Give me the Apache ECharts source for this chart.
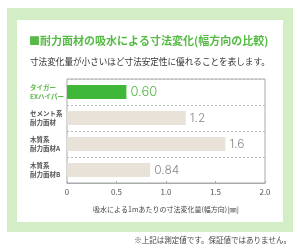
<!DOCTYPE html>
<html><head><meta charset="utf-8">
<script src="https://cdn.jsdelivr.net/npm/echarts@6/dist/echarts.min.js"></script>
<style>html,body{margin:0;padding:0;background:#fff}#c{width:300px;height:247px}</style>
</head><body><div id="c"></div>
<script>
const categories = ['タイガー\nEXハイパー', 'セメント系\n耐力面材', '木質系\n耐力面材A', '木質系\n耐力面材B'];
const values = [0.6, 1.2, 1.6, 0.84];
const valueLabels = ['0.60', '1.2', '1.6', '0.84'];
const xTicks = ['0', '0.5', '1.0', '1.5', '2.0'];

const GREEN = '#3fb83a';
const BEIGE = '#e9e2d9';
const chart = echarts.init(document.getElementById('c'), null, {renderer: 'canvas'});
const font = '"Noto Sans CJK JP", sans-serif';
chart.setOption({
  animation: false,
  textStyle: {fontFamily: font},
  graphic: [
    {type: 'rect', shape: {x: 7, y: 8, width: 286, height: 224}, style: {fill: '#d3edc6'}, z: -10},
    {type: 'rect', shape: {x: 17, y: 20, width: 266, height: 202}, style: {fill: '#fff'}, z: -9},
    {type: 'text', left: 29, top: 35, style: {text: '■耐力面材の吸水による寸法変化(幅方向の比較)', fill: '#55bb45', font: 'bold 11px ' + font}},
    {type: 'text', left: 30, top: 57, style: {text: '寸法変化量が小さいほど寸法安定性に優れることを表します。', fill: '#333', font: '8.6px ' + font}},
    {type: 'text', right: 9, top: 236, style: {text: '※上記は測定値です。保証値ではありません。', fill: '#444', font: '7.5px ' + font}}
  ],
  grid: {left: 67, top: 79, width: 198, height: 104, show: true, borderColor: '#aaa', borderWidth: 1, containLabel: false},
  xAxis: {
    type: 'value', min: 0, max: 2, interval: 0.5,
    axisLine: {show: true, lineStyle: {color: '#aaa'}},
    axisTick: {show: true, inside: true, length: 2, lineStyle: {color: '#aaa'}},
    splitLine: {show: false},
    axisLabel: {fontSize: 8, color: '#555', margin: 5, formatter: (v) => xTicks[Math.round(v / 0.5)]},
    name: '吸水による1mあたりの寸法変化量(幅方向)[㎜]',
    nameLocation: 'middle', nameGap: 23,
    nameTextStyle: {fontSize: 7, color: '#444'}
  },
  yAxis: {
    type: 'category', data: categories, inverse: true,
    axisLine: {show: false}, axisTick: {show: false},
    splitLine: {show: true, lineStyle: {type: [2, 2], color: '#bbb', width: 1}},
    axisLabel: {
      align: 'left', margin: 37, fontSize: 6.5, lineHeight: 9, fontWeight: 'bold',
      color: (v, i) => i === 0 ? '#5cb84a' : '#555'
    }
  },
  series: [{
    type: 'bar', barWidth: 14,
    data: values.map((v, i) => ({
      value: v,
      itemStyle: {color: i === 0 ? GREEN : BEIGE},
      label: i === 0 ? {color: '#4cb840', fontSize: 13} : {color: '#888', fontSize: 12}
    })),
    label: {
      show: true, position: 'right', distance: 4,
      formatter: (p) => valueLabels[p.dataIndex],
      color: '#888', fontSize: 12, fontFamily: 'Inter, sans-serif', fontWeight: 300
    }
  }]
});
</script></body></html>
